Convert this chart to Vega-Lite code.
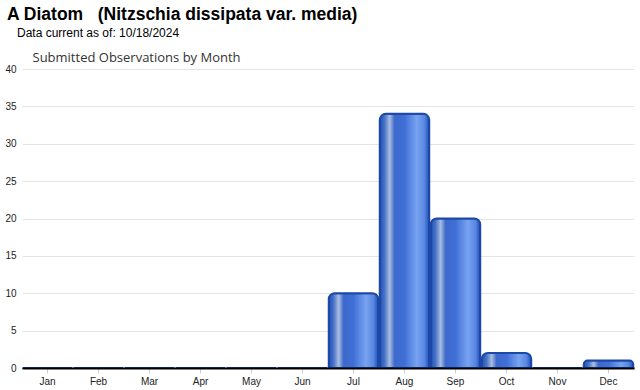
{
  "$schema": "https://vega.github.io/schema/vega-lite/v6.json",
  "width": 612,
  "height": 299,
  "autosize": {"type": "none"},
  "padding": {"left": 22, "top": 69, "right": 6, "bottom": 22},
  "background": "white",
  "title": {
    "text": "A Diatom\u00a0\u00a0\u00a0(Nitzschia dissipata var. media)",
    "subtitle": "\u200b\u00a0\u00a0\u00a0Data current as of: 10/18/2024",
    "anchor": "start",
    "frame": "group",
    "dx": -15,
    "font": "Liberation Sans",
    "fontSize": 17.5,
    "fontWeight": "bold",
    "color": "#000000",
    "subtitleFont": "Liberation Sans",
    "subtitleFontSize": 12,
    "subtitleColor": "#000000",
    "subtitlePadding": 5,
    "offset": 12
  },
  "data": {
    "values": [
      {"month": "Jan", "count": 0},
      {"month": "Feb", "count": 0},
      {"month": "Mar", "count": 0},
      {"month": "Apr", "count": 0},
      {"month": "May", "count": 0},
      {"month": "Jun", "count": 0},
      {"month": "Jul", "count": 10},
      {"month": "Aug", "count": 34},
      {"month": "Sep", "count": 20},
      {"month": "Oct", "count": 2},
      {"month": "Nov", "count": 0},
      {"month": "Dec", "count": 1}
    ]
  },
  "config": {
    "view": {"stroke": null},
    "axis": {"labelFont": "Liberation Sans", "labelFontSize": 10, "labelColor": "#222222"}
  },
  "mark": {
    "type": "bar",
    "stroke": "#1c48a8",
    "strokeWidth": 2,
    "cornerRadiusTopLeft": 6,
    "cornerRadiusTopRight": 6,
    "color": {
      "gradient": "linear",
      "x1": 0, "y1": 0, "x2": 1, "y2": 0,
      "stops": [
        {"offset": 0, "color": "#1e4fb5"},
        {"offset": 0.1, "color": "#4a74c8"},
        {"offset": 0.2, "color": "#a9bde0"},
        {"offset": 0.3, "color": "#3d69cc"},
        {"offset": 0.5, "color": "#3f6fd6"},
        {"offset": 0.75, "color": "#78a3f0"},
        {"offset": 0.9, "color": "#5a88e2"},
        {"offset": 1, "color": "#1f4fb8"}
      ]
    }
  },
  "encoding": {
    "x": {
      "field": "month", "type": "nominal", "sort": null,
      "scale": {"paddingInner": 0.03, "paddingOuter": 0.015},
      "axis": {
        "title": null, "labelAngle": 0,
        "domain": true, "domainColor": "#000000", "domainWidth": 2,
        "ticks": true, "tickColor": "#cccccc", "tickSize": 5,
        "labelPadding": 3, "grid": false, "zindex": 1
      }
    },
    "y": {
      "field": "count", "type": "quantitative",
      "scale": {"domain": [0, 40], "nice": false},
      "axis": {
        "values": [0, 5, 10, 15, 20, 25, 30, 35, 40],
        "labelOverlap": false,
        "title": "Submitted Observations by Month",
        "titleFont": "Open Sans", "titleFontSize": 13, "titleFontWeight": "normal",
        "titleColor": "#333333", "titleAngle": 0, "titleAlign": "left",
        "titleBaseline": "alphabetic", "titleX": 10, "titleY": -8,
        "domain": false, "ticks": false, "labelPadding": 6,
        "grid": true, "gridColor": "#e4e4e4"
      }
    }
  }
}
